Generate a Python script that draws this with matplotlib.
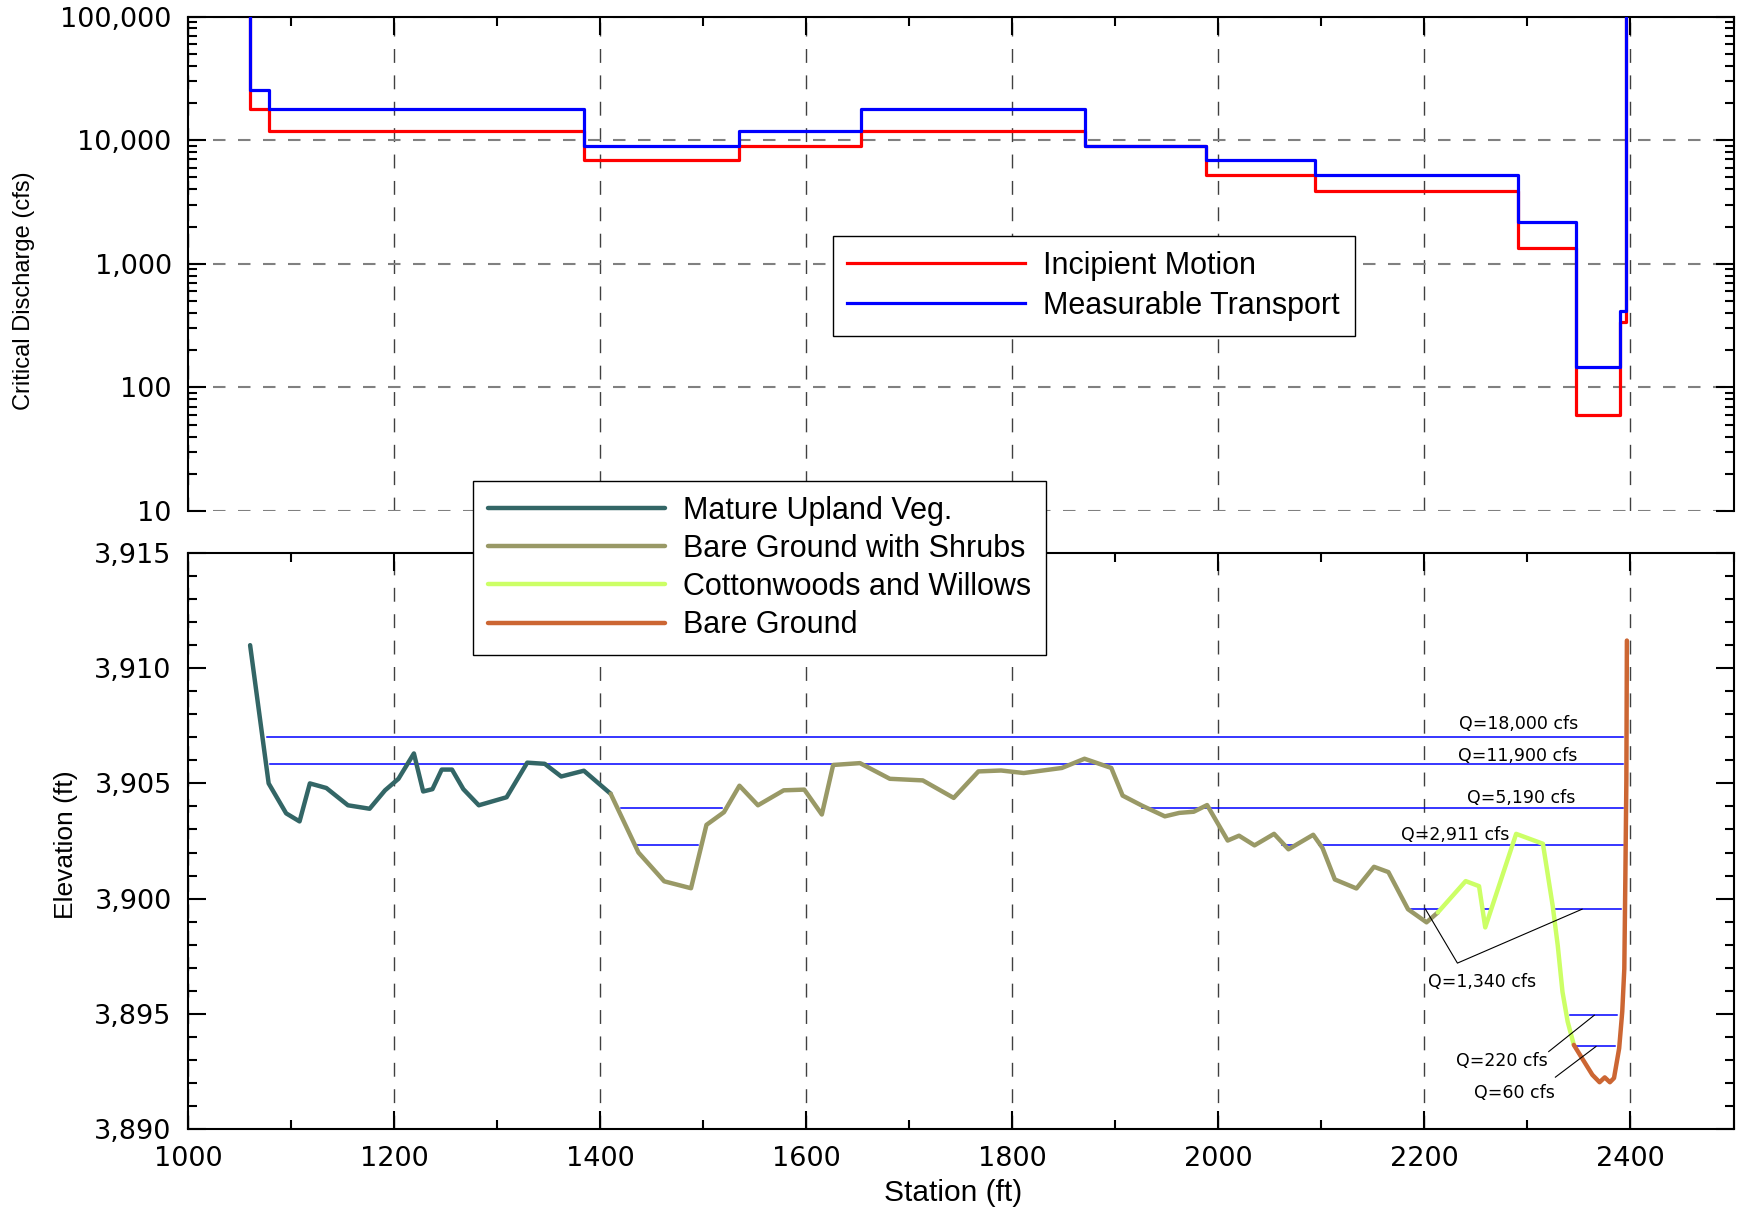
import matplotlib
matplotlib.use('Agg')
import matplotlib.pyplot as plt
from matplotlib.ticker import LogLocator, MultipleLocator, FuncFormatter, NullFormatter
import logging
logging.getLogger('matplotlib.font_manager').setLevel(logging.ERROR)

plt.rcParams['font.family'] = ['DejaVu Sans']

# ---------- data: critical discharge steps ----------
top_q = 100000
im_edges = [1060, 1078, 1384, 1535, 1653, 1870, 1988, 2094, 2291, 2347, 2390, 2396]
im_vals = [18000, 11900, 6850, 9000, 11900, 9000, 5190, 3900, 1340, 60, 336]
mt_edges = [1060, 1078, 1384, 1535, 1653, 1870, 1988, 2094, 2291, 2347, 2390, 2396]
mt_vals = [25400, 18000, 9000, 11900, 18000, 9000, 6850, 5190, 2180, 146, 412]

# ---------- data: ground profile by cover type ----------
mature_st = [1060, 1078, 1095, 1108, 1118, 1134, 1155, 1176, 1191, 1204, 1219, 1228,
             1237, 1246, 1256, 1267, 1282, 1309, 1329, 1346, 1362, 1384, 1410]
mature_el = [3911.0, 3905.0, 3903.7, 3903.35, 3905.0, 3904.8, 3904.05, 3903.9, 3904.7,
             3905.2, 3906.3, 3904.65, 3904.75, 3905.6, 3905.6, 3904.75, 3904.05, 3904.4,
             3905.9, 3905.85, 3905.3, 3905.55, 3904.55]
shrub_st = [1410, 1437, 1462, 1488, 1503, 1520, 1535, 1553, 1578, 1598, 1615, 1626, 1652,
            1681, 1713, 1743, 1767, 1789, 1811, 1848, 1870, 1896, 1907, 1926, 1948, 1962,
            1976, 1989, 2009, 2020, 2035, 2054, 2068, 2092, 2101, 2113, 2134, 2151, 2165,
            2184, 2202, 2213]
shrub_el = [3904.55, 3902.0, 3900.75, 3900.45, 3903.2, 3903.75, 3904.9, 3904.05, 3904.7,
            3904.73, 3903.65, 3905.8, 3905.88, 3905.2, 3905.13, 3904.37, 3905.52, 3905.56,
            3905.45, 3905.67, 3906.07, 3905.67, 3904.47, 3904.03, 3903.57, 3903.72, 3903.77,
            3904.06, 3902.52, 3902.73, 3902.31, 3902.81, 3902.14, 3902.77, 3902.2, 3900.83,
            3900.44, 3901.38, 3901.15, 3899.54, 3898.97, 3899.4]
cotton_st = [2213, 2240, 2253, 2259, 2289, 2315, 2324.5, 2329.4, 2334, 2339, 2345]
cotton_el = [3899.4, 3900.76, 3900.54, 3898.75, 3902.81, 3902.38, 3899.68, 3897.96,
             3895.95, 3894.66, 3893.65]
bare_st = [2345, 2353, 2363, 2370, 2375, 2380, 2384, 2389, 2392, 2394, 2395, 2396, 2396.5]
bare_el = [3893.65, 3893.07, 3892.35, 3892.03, 3892.24, 3892.03, 3892.21, 3893.5, 3895.09,
           3896.95, 3900.83, 3905.14, 3911.2]

# ---------- data: water surfaces ----------
wse_q = ['18,000', '11,900', '5,190', '2,911', '1,340', '220', '60']
wse_el = [3907.0, 3905.83, 3903.92, 3902.34, 3899.54, 3894.94, 3893.62]
wse_segs = [[(1076, 2393)],
            [(1079, 2393)],
            [(1420, 1518), (1926, 2393)],
            [(1436, 1495), (2062, 2075), (2098, 2393)],
            [(2187, 2216), (2256, 2265), (2324, 2391)],
            [(2341, 2386.5)],
            [(2347, 2385)]]

W, H = 1737, 1211
fig = plt.figure(figsize=(W / 100, H / 100), dpi=100)
ax1 = fig.add_axes([188.3 / W, 1 - 511 / H, 1545.2 / W, 494.5 / H])
ax2 = fig.add_axes([188.3 / W, 1 - 1129 / H, 1545.2 / W, 576 / H])

comma = FuncFormatter(lambda v, p: f'{v:,.0f}')
narrow = ['Liberation Sans Narrow', 'Liberation Sans', 'DejaVu Sans']
arial = ['Liberation Sans', 'DejaVu Sans']

# ---------- top panel ----------
ax1.plot([im_edges[0]] + im_edges, [top_q] + im_vals + [top_q], drawstyle='steps-post',
         color='#FF0000', lw=2.3, label='Incipient Motion', zorder=3)
ax1.plot([mt_edges[0]] + mt_edges, [top_q] + mt_vals + [top_q], drawstyle='steps-post',
         color='#0000FF', lw=2.3, label='Measurable Transport', zorder=4)
ax1.set_yscale('log')
ax1.set_ylim(10, 100000)
ax1.set_xlim(1000, 2500)
ax1.yaxis.set_major_locator(LogLocator(base=10, numticks=10))
ax1.yaxis.set_minor_locator(LogLocator(base=10, subs=range(2, 10), numticks=50))
ax1.yaxis.set_major_formatter(comma)
ax1.yaxis.set_minor_formatter(NullFormatter())
ax1.xaxis.set_major_locator(MultipleLocator(200))
ax1.xaxis.set_minor_locator(MultipleLocator(100))
ax1.spines['bottom'].set_visible(False)
ax1.tick_params(which='both', direction='in', top=True, right=True, bottom=False,
                labelbottom=False, width=1.5, pad=12, labelsize=19.5)
ax1.tick_params(which='major', length=13)
ax1.tick_params(which='minor', length=6.5)
ax1.grid(axis='x', which='major', color='#404040', lw=1, ls=(0, (10, 9)))
ax1.grid(axis='y', which='major', color='#808080', lw=1.5, ls=(0, (6, 6)))
ax1.set_ylabel('Critical Discharge (cfs)', family=narrow, fontsize=17, va='center')
ax1.yaxis.set_label_coords(-0.1063, 0.445)
leg1 = ax1.legend(loc='upper left', bbox_to_anchor=(0.417, 0.556), borderaxespad=0,
                  fancybox=False, framealpha=1, edgecolor='black',
                  prop={'family': arial, 'size': 22}, handlelength=5.8,
                  handletextpad=0.62, labelspacing=0.34, borderpad=0.48)
leg1.get_frame().set_linewidth(1.0)

# ---------- bottom panel ----------
covers = [('Mature Upland Veg.', mature_st, mature_el, '#336666'),
          ('Bare Ground with Shrubs', shrub_st, shrub_el, '#999966'),
          ('Cottonwoods and Willows', cotton_st, cotton_el, '#CCFF66'),
          ('Bare Ground', bare_st, bare_el, '#CC6633')]

for q, el, segs in zip(wse_q, wse_el, wse_segs):
    for a, b in segs:
        ax2.plot([a, b], [el, el], color='#0000FF', lw=1.1, zorder=2)

for name, st, el, c in covers:
    ax2.plot(st, el, color=c, lw=3.2, label=name, solid_capstyle='round',
             solid_joinstyle='round', zorder=3)

# water surface labels
lab_pos = [(2291.5, 3907.59), (2290.6, 3906.19), (2293.7, 3904.35), (2229.8, 3902.74),
           (2256, 3896.38), (2275.4, 3892.93), (2287.3, 3891.56)]
for q, (x, y) in zip(wse_q, lab_pos):
    ax2.text(x, y, f'Q={q} cfs', ha='center', va='center', fontsize=12.5, zorder=5)
leaders = [([2201, 2232, 2353], [3899.54, 3897.2, 3899.54]),
           ([2320.6, 2364.9], [3893.36, 3894.94]),
           ([2327.1, 2366.5], [3892.25, 3893.58])]
for lx, ly in leaders:
    ax2.plot(lx, ly, color='black', lw=0.8, zorder=5)

ax2.set_xlim(1000, 2500)
ax2.set_ylim(3890, 3915)
ax2.xaxis.set_major_locator(MultipleLocator(200))
ax2.xaxis.set_minor_locator(MultipleLocator(100))
ax2.yaxis.set_major_locator(MultipleLocator(5))
ax2.yaxis.set_minor_locator(MultipleLocator(1))
ax2.yaxis.set_major_formatter(comma)
ax2.tick_params(which='both', direction='in', top=True, right=True, width=1.5,
                pad=12, labelsize=19.5)
ax2.tick_params(which='major', length=13)
ax2.tick_params(which='minor', length=6.5)
ax2.grid(axis='x', which='major', color='#404040', lw=1, ls=(0, (10, 9)))
ax2.set_ylabel('Elevation (ft)', family=narrow, fontsize=19, va='center')
ax2.yaxis.set_label_coords(-0.0791, 0.4936)
ax2.set_xlabel('Station (ft)', family=arial, fontsize=21.5, va='center')
ax2.xaxis.set_label_coords(0.495, -0.111)
leg2 = ax2.legend(loc='upper left', bbox_to_anchor=(473 / W, 1 - 481 / H),
                  bbox_transform=fig.transFigure, borderaxespad=0, fancybox=False,
                  framealpha=1, edgecolor='black', prop={'family': arial, 'size': 22},
                  handlelength=5.8, handletextpad=0.6, labelspacing=0.27, borderpad=0.48)
leg2.get_frame().set_linewidth(1.0)
leg2.set_zorder(10)

for ax in (ax1, ax2):
    for s in ax.spines.values():
        s.set_linewidth(1.5)

fig.savefig('out.png', dpi=100)
